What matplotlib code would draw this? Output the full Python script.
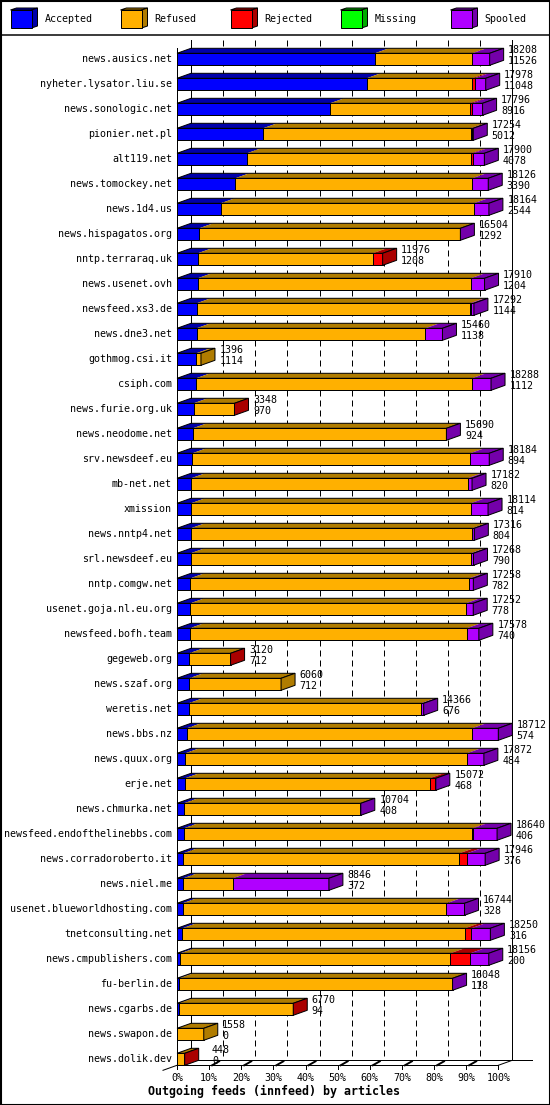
import matplotlib
matplotlib.use("Agg")
import matplotlib.pyplot as plt
from matplotlib.patches import Polygon

# innfeed outgoing feeds, articles per peer
hosts = ["news.ausics.net", "nyheter.lysator.liu.se", "news.sonologic.net", "pionier.net.pl",
         "alt119.net", "news.tomockey.net", "news.1d4.us", "news.hispagatos.org",
         "nntp.terraraq.uk", "news.usenet.ovh", "newsfeed.xs3.de", "news.dne3.net",
         "gothmog.csi.it", "csiph.com", "news.furie.org.uk", "news.neodome.net",
         "srv.newsdeef.eu", "mb-net.net", "xmission", "news.nntp4.net",
         "srl.newsdeef.eu", "nntp.comgw.net", "usenet.goja.nl.eu.org", "newsfeed.bofh.team",
         "gegeweb.org", "news.szaf.org", "weretis.net", "news.bbs.nz",
         "news.quux.org", "erje.net", "news.chmurka.net", "newsfeed.endofthelinebbs.com",
         "news.corradoroberto.it", "news.niel.me", "usenet.blueworldhosting.com", "tnetconsulting.net",
         "news.cmpublishers.com", "fu-berlin.de", "news.cgarbs.de", "news.swapon.de",
         "news.dolik.dev"]
accepted = [11526, 11048, 8916, 5012, 4078, 3390, 2544, 1292, 1208, 1204, 1144, 1138,
            1114, 1112, 970, 924, 894, 820, 814, 804, 790, 782, 778, 740,
            712, 712, 676, 574, 484, 468, 408, 406, 376, 372, 328, 316,
            200, 118, 94, 0, 0]
refused = [5672, 6140, 8130, 12082, 13052, 13806, 14745, 15182, 10188, 15906, 15908, 13332,
           282, 16066, 2348, 14746, 16180, 16112, 16290, 16392, 16328, 16246, 16044, 16138,
           2368, 5348, 13540, 16608, 16398, 14244, 10276, 16754, 16070, 2874, 15366, 16454,
           15721, 15910, 6646, 1558, 420]
rejected = [0, 150, 150, 60, 110, 0, 0, 0, 580, 0, 60, 0,
            0, 0, 30, 0, 0, 0, 0, 0, 0, 0, 0, 0,
            40, 0, 0, 0, 0, 330, 0, 80, 450, 0, 0, 370,
            1165, 0, 30, 0, 28]
missing = [0] * 41
spooled = [1010, 640, 600, 100, 660, 930, 875, 30, 0, 800, 180, 990,
           0, 1110, 0, 20, 1110, 250, 1010, 120, 150, 230, 430, 700,
           0, 0, 150, 1530, 990, 30, 20, 1400, 1050, 5600, 1050, 1110,
           1070, 20, 0, 0, 0]

series_names = ["Accepted", "Refused", "Rejected", "Missing", "Spooled"]
front_colors = ["#0000ff", "#ffb000", "#ff0000", "#00ff00", "#b000ff"]
dark_colors = ["#0000aa", "#b07c00", "#aa0000", "#00aa00", "#7400aa"]
pct_labels = ["0%", "10%", "20%", "30%", "40%", "50%", "60%", "70%", "80%", "90%", "100%"]
title = "Outgoing feeds (innfeed) by articles"

series = [accepted, refused, rejected, missing, spooled]
totals = [sum(s[i] for s in series) for i in range(len(hosts))]
xmax = max(totals)

W, H = 550, 1105
fig = plt.figure(figsize=(W / 100, H / 100), dpi=100)
ax = fig.add_axes([0, 0, 1, 1])
ax.axis("off")

# pixel layout of the plot area
X0, X100 = 177, 498.3
ROW0, PITCH = 59.3, 25
xs = (X100 - X0) / xmax
ax.set_xlim(-X0 / xs, (W - X0) / xs)
ax.set_ylim((H - ROW0) / PITCH, -ROW0 / PITCH)


def px(x, y):
    # pixel -> data, only for frame / legend placement
    return ((x - X0) / xs, (y - ROW0) / PITCH)


dx = 14 / xs
dy = 5 / PITCH
hh = 6 / PITCH
lw = 0.72
mono = "DejaVu Sans Mono"
n = len(hosts)

# back wall and grid
ytop = px(0, 40)[1]
yfront = (n - 1) + hh
yback = yfront - dy
for k in range(11):
    xb = k * xmax / 10 + dx
    if k in (0, 10):
        ax.plot([xb, xb], [ytop, yback], color="black", lw=lw, zorder=1)
    else:
        ax.plot([xb, xb], [ytop, yback], color="black", lw=lw, ls=(0, (6, 4)), zorder=1)

# floor
ax.plot([0, xmax], [yfront, yfront], color="black", lw=lw, zorder=1)
ax.plot([-dx, 0], [yfront + dy, yfront], color="black", lw=lw, zorder=1)
ax.plot([xmax, xmax + dx], [yfront, yback], color="black", lw=lw, zorder=1)
ax.plot([dx, xmax + dx + 20 / xs], [yback, yback], color="black", lw=lw, zorder=1)
ax.plot([0, 0], [-hh - dy, yfront], color="black", lw=lw, zorder=1)

for k in range(11):
    xk = k * xmax / 10
    ax.plot([xk, xk], [yfront, yfront + 4 / PITCH], color="black", lw=lw, zorder=1)
    if 0 < k < 10:
        ax.plot([xk + 3 / xs, xk + 10 / xs], [yfront, yfront - 4 / PITCH],
                color="black", lw=1.4, zorder=1)
    ax.text(xk, px(0, 1078)[1], pct_labels[k], ha="center", va="center",
            fontsize=7.2, family=mono, zorder=5)

# bars
for i in range(n):
    top = i - hh
    left = 0
    last = None
    for j, s in enumerate(series):
        w = s[i]
        if w <= 0:
            continue
        ax.add_patch(Polygon([(left, top), (left + w, top), (left + w + dx, top - dy), (left + dx, top - dy)],
                             closed=True, facecolor=dark_colors[j], edgecolor="none", zorder=2))
        ax.add_patch(Polygon([(left, top), (left + w, top), (left + w, i + hh), (left, i + hh)],
                             closed=True, facecolor=front_colors[j], edgecolor="black", lw=lw, zorder=3))
        left += w
        last = j
    end = left
    ax.add_patch(Polygon([(0, top), (end, top), (end + dx, top - dy), (dx, top - dy)],
                         closed=True, fill=False, edgecolor="black", lw=lw, zorder=3))
    ax.add_patch(Polygon([(end, top), (end + dx, top - dy), (end + dx, i + hh - dy), (end, i + hh)],
                         closed=True, facecolor=dark_colors[last], edgecolor="black", lw=lw, zorder=3))

    ax.text(px(172, 0)[0], i, hosts[i], ha="right", va="center", fontsize=7.2, family=mono, zorder=5)
    xl = max(end + dx + 4.5 / xs, px(212, 0)[0])
    ax.text(xl, i - 9.7 / PITCH, str(totals[i]), ha="left", va="center", fontsize=7.2, family=mono, zorder=5)
    ax.text(xl, i + 1.5 / PITCH, str(accepted[i]), ha="left", va="center", fontsize=7.2, family=mono, zorder=5)

# legend
for j, name in enumerate(series_names):
    bx = 10.5 + 110 * j
    ax.add_patch(Polygon([px(bx, 10), px(bx + 6, 8), px(bx + 27, 8), px(bx + 21, 10)],
                         closed=True, facecolor=dark_colors[j], edgecolor="black", lw=lw, zorder=3))
    ax.add_patch(Polygon([px(bx + 21, 10), px(bx + 27, 8), px(bx + 27, 26), px(bx + 21, 28)],
                         closed=True, facecolor=dark_colors[j], edgecolor="black", lw=lw, zorder=3))
    ax.add_patch(Polygon([px(bx, 10), px(bx + 21, 10), px(bx + 21, 28), px(bx, 28)],
                         closed=True, facecolor=front_colors[j], edgecolor="black", lw=lw, zorder=4))
    tx, ty = px(bx + 34, 19.5)
    ax.text(tx, ty, name, ha="left", va="center", fontsize=7.2, family=mono, zorder=5)

x_a, y_a = px(0, 35)
x_b, _ = px(W, 35)
ax.plot([x_a, x_b], [y_a, y_a], color="black", lw=lw * 1.5, zorder=5)

tx, ty = px(274.5, 1091)
ax.text(tx, ty, title, ha="center", va="center", fontsize=8.4, family=mono,
        fontweight="bold", zorder=5)

# outer frame
fig.patches.append(plt.Rectangle((0.5 / W, 0.5 / H), (W - 1) / W, (H - 1) / H, fill=False,
                                 edgecolor="black", lw=1.5, transform=fig.transFigure, figure=fig))

fig.savefig("out.png", dpi=100)
